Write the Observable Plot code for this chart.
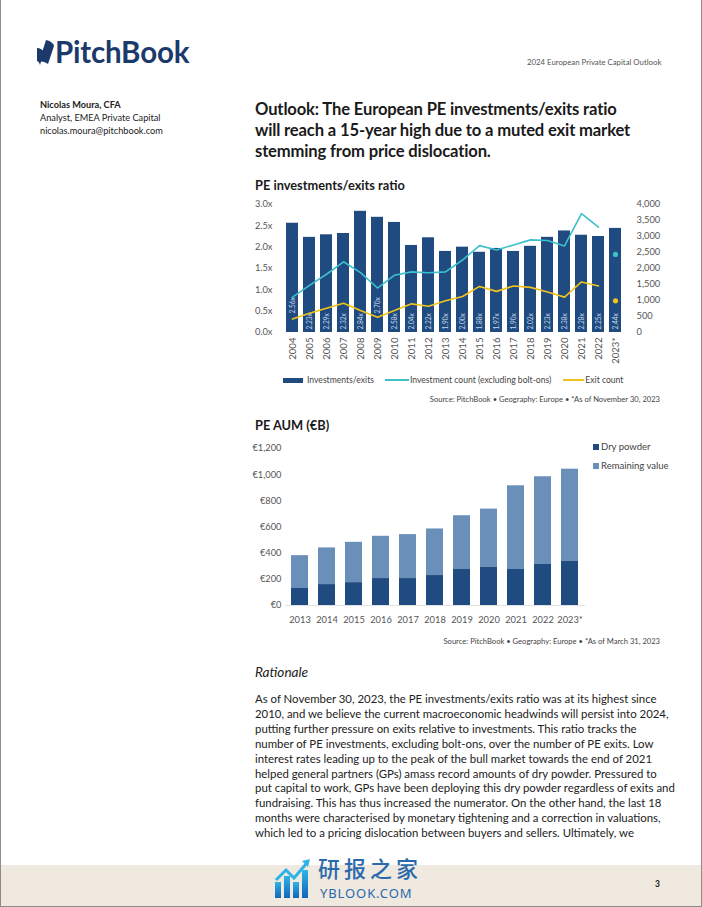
<!DOCTYPE html>
<html><head><meta charset="utf-8">
<script src="https://cdn.jsdelivr.net/npm/d3@7"></script>
<script src="https://cdn.jsdelivr.net/npm/@observablehq/plot@0.6"></script>
<style>
html,body{margin:0;padding:0}
body{width:702px;height:907px;position:relative;overflow:hidden;background:#fff;font-family:Lato,"Open Sans",sans-serif;color:#1e1e1e}
.frame{position:absolute;left:0;top:0;width:700px;height:906px;border-left:1px solid #8c8c8c;border-right:1px solid #8c8c8c;border-bottom:1px solid #8c8c8c;pointer-events:none;z-index:5}
.abs{position:absolute;white-space:nowrap}
.footer{position:absolute;left:0;top:865px;width:702px;height:42px;background:#efe9e0}
.src{font-size:7.6px;color:#444;text-align:right;width:420px;left:240px}
.leg1{display:flex;align-items:center;font-size:8.6px;color:#444;left:283px;top:375px}
.leg2{font-size:9.5px;color:#444;left:593px}
.sw{display:inline-block;width:6px;height:6px;margin-right:2px;vertical-align:middle;position:relative;top:-1px}
.para{left:255px;top:692px;font-size:11.4px;line-height:14.9px;color:#222}
</style></head>
<body>
<div class="frame"></div>

<!-- header -->
<svg class="abs" style="left:37px;top:40px" width="18" height="26" viewBox="0 0 18 26">
  <path d="M9 0 C14 1 17 4 17 6 L11 24 C8 22 5 21 2 22 Z" fill="#1b3a6b"/>
  <path d="M0 8 C3 8 6 10 7 12 L3 25 C2 22 1 21 0 21 Z" fill="#1b3a6b"/>
</svg>
<div class="abs" style="left:55px;top:34px;font-size:29.5px;font-weight:700;color:#1b3a6b;letter-spacing:-0.2px">PitchBook</div>
<div class="abs" style="left:527px;top:57px;font-size:7.8px;color:#555">2024 European Private Capital Outlook</div>

<div class="abs" style="left:40px;top:98px;font-size:9.2px;line-height:13px;color:#222">
  <div style="font-weight:700">Nicolas Moura, CFA</div>
  <div>Analyst, EMEA Private Capital</div>
  <div>nicolas.moura@pitchbook.com</div>
</div>

<div class="abs" style="left:255px;top:99px;font-size:16.6px;line-height:21px;font-weight:700;color:#1a1a1a;letter-spacing:-0.15px">
  <div>Outlook: The European PE investments/exits ratio</div>
  <div>will reach a 15-year high due to a muted exit market</div>
  <div>stemming from price dislocation.</div>
</div>

<div class="abs" style="left:255px;top:177px;font-size:12.8px;font-weight:700;color:#1a1a1a">PE investments/exits ratio</div>
<div id="chart1" class="abs" style="left:250px;top:196px"></div>
<div id="legend1" class="abs leg1"></div>
<div id="src1" class="abs src" style="top:394px"></div>

<div class="abs" style="left:255px;top:417px;font-size:12.8px;font-weight:700;color:#1a1a1a">PE AUM (€B)</div>
<div id="chart2" class="abs" style="left:250px;top:438px"></div>
<div id="legend2"></div>
<div id="src2" class="abs src" style="top:636px"></div>

<div class="abs" style="left:255px;top:664px;font-size:13.6px;font-style:italic;color:#222">Rationale</div>
<div id="para" class="abs para"></div>

<div class="footer"></div>
<svg class="abs" style="left:274px;top:858px" width="38" height="42" viewBox="0 0 38 42">
  <defs><linearGradient id="wg" x1="0" y1="1" x2="0" y2="0"><stop offset="0" stop-color="#1565b8"/><stop offset="1" stop-color="#2eb3e8"/></linearGradient></defs>
  <rect x="1" y="24" width="6" height="16" fill="url(#wg)"/>
  <rect x="10" y="18" width="6" height="22" fill="url(#wg)"/>
  <rect x="19" y="24" width="6" height="16" fill="url(#wg)"/>
  <rect x="28" y="12" width="6" height="28" fill="url(#wg)"/>
  <path d="M2 22 L12 12 L20 20 L32 6" stroke="#2eb3e8" stroke-width="3" fill="none"/>
  <path d="M28 3 L36 1 L34 9 Z" fill="#2eb3e8"/>
</svg>
<div class="abs" style="left:318px;top:856px;font-family:'Noto Sans CJK SC';font-size:22px;line-height:22px;font-weight:500;color:#2a6aac;letter-spacing:4px">研报之家</div>
<div class="abs" style="left:320px;top:887px;font-family:'Noto Sans';font-size:13px;line-height:13px;color:#2a6aac;letter-spacing:0.9px">YBLOOK.COM</div>
<div class="abs" style="left:655px;top:879px;font-size:8.5px;font-weight:700;color:#222">3</div>

<script>
// ---------- Data: chart 1 ----------
const years1 = ["2004","2005","2006","2007","2008","2009","2010","2011","2012","2013","2014","2015","2016","2017","2018","2019","2020","2021","2022","2023*"];
const ratio = [2.56,2.23,2.29,2.32,2.84,2.70,2.58,2.04,2.22,1.90,2.00,1.88,1.97,1.90,2.02,2.23,2.38,2.28,2.25,2.44];
const investmentCount = [1105,1470,1820,2210,1870,1390,1790,1895,1865,1895,2265,2715,2580,2735,2895,2875,2705,3715,3295,2440];
const exitCount = [420,600,760,915,685,475,685,895,820,990,1125,1440,1285,1455,1410,1265,1105,1580,1455,990];
const ratioTicks = [0,0.5,1,1.5,2,2.5,3];
const countTicks = [0,500,1000,1500,2000,2500,3000,3500,4000];
const seriesNames1 = ["Investments/exits","Investment count (excluding bolt-ons)","Exit count"];
const source1 = "Source: PitchBook  •  Geography: Europe  •  *As of November 30, 2023";

// ---------- Data: chart 2 ----------
const years2 = ["2013","2014","2015","2016","2017","2018","2019","2020","2021","2022","2023*"];
const dryPowder = [130,160,175,206,206,229,275,295,275,318,341];
const remainingValue = [251,280,308,323,336,356,411,442,640,666,701];
const aumTicks = [0,200,400,600,800,1000,1200];
const seriesNames2 = ["Dry powder","Remaining value"];
const source2 = "Source: PitchBook  •  Geography: Europe  •  *As of March 31, 2023";

const paragraph = [
"As of November 30, 2023, the PE investments/exits ratio was at its highest since",
"2010, and we believe the current macroeconomic headwinds will persist into 2024,",
"putting further pressure on exits relative to investments. This ratio tracks the",
"number of PE investments, excluding bolt-ons, over the number of PE exits. Low",
"interest rates leading up to the peak of the bull market towards the end of 2021",
"helped general partners (GPs) amass record amounts of dry powder. Pressured to",
"put capital to work, GPs have been deploying this dry powder regardless of exits and",
"fundraising. This has thus increased the numerator. On the other hand, the last 18",
"months were characterised by monetary tightening and a correction in valuations,",
"which led to a pricing dislocation between buyers and sellers. Ultimately, we"
];

// ---------- Colors ----------
const navy = "#1f4b80", teal = "#3dbfcc", gold = "#f2c31a", steel = "#6a8fb9";
const font = "Lato, 'Open Sans', sans-serif";

// ---------- Chart 1 ----------
const k = 3 / 4000; // map count axis onto ratio axis
const d1 = years1.map((y, i) => ({year: y, ratio: ratio[i], inv: investmentCount[i], exit: exitCount[i]}));
const lineData = d1.slice(0, -1);
const lastPt = d1.slice(-1);
const lowExit = d => d.exit * k < 0.4;

const c1 = Plot.plot({
  width: 415, height: 180,
  marginLeft: 27, marginRight: 36, marginTop: 8, marginBottom: 44,
  style: {fontFamily: font, fontSize: "9.3px", color: "#555", background: "transparent"},
  x: {domain: years1, paddingInner: 0.32, paddingOuter: 0.17, label: null},
  y: {domain: [0, 3], label: null},
  marks: [
    Plot.axisX({tickRotate: -90, tickSize: 0, tickPadding: 5, label: null, fontSize: 9.6}),
    Plot.axisY(ratioTicks, {anchor: "left", tickSize: 0, tickPadding: 5, label: null, tickFormat: d => d.toFixed(1) + "x"}),
    Plot.axisY(countTicks.map(c => c * k), {anchor: "right", tickSize: 0, tickPadding: 7, label: null, tickFormat: d => d3.format(",")(Math.round(d / k))}),
    Plot.barY(d1, {x: "year", y: "ratio", fill: navy}),
    Plot.text(d1.filter(d => !lowExit(d)), {x: "year", y: 0, text: d => d.ratio.toFixed(2) + "x", rotate: -90, textAnchor: "start", dy: -3, fill: "#c9d6e8", fontSize: 6.6}),
    Plot.text(d1.filter(lowExit), {x: "year", y: 0, text: d => d.ratio.toFixed(2) + "x", rotate: -90, textAnchor: "start", dy: -19, fill: "#c9d6e8", fontSize: 6.6}),
    Plot.line(lineData, {x: "year", y: d => d.inv * k, stroke: teal, strokeWidth: 1.6}),
    Plot.line(lineData, {x: "year", y: d => d.exit * k, stroke: gold, strokeWidth: 1.6}),
    Plot.dot(lastPt, {x: "year", y: d => d.inv * k, r: 2.6, fill: teal}),
    Plot.dot(lastPt, {x: "year", y: d => d.exit * k, r: 2.6, fill: gold})
  ]
});
document.getElementById("chart1").appendChild(c1);

const leg1 = document.getElementById("legend1");
leg1.innerHTML =
  `<span style="display:inline-block;width:20px;height:5px;background:${navy};margin-right:4px"></span><span>${seriesNames1[0]}</span>` +
  `<span style="display:inline-block;width:24px;height:2px;background:${teal};margin-left:11px;margin-right:1px"></span><span>${seriesNames1[1]}</span>` +
  `<span style="display:inline-block;width:21px;height:2px;background:${gold};margin-left:12px;margin-right:1px"></span><span>${seriesNames1[2]}</span>`;
document.getElementById("src1").textContent = source1;

// ---------- Chart 2 ----------
const d2 = [];
years2.forEach((y, i) => {
  d2.push({year: y, series: seriesNames2[0], value: dryPowder[i]});
  d2.push({year: y, series: seriesNames2[1], value: remainingValue[i]});
});
const c2 = Plot.plot({
  width: 415, height: 195,
  marginLeft: 35, marginRight: 80, marginTop: 10, marginBottom: 28,
  style: {fontFamily: font, fontSize: "9.3px", color: "#555", background: "transparent"},
  x: {domain: years2, paddingInner: 0.37, paddingOuter: 0.2, label: null},
  y: {domain: [0, 1200], label: null},
  color: {domain: seriesNames2, range: [navy, steel]},
  marks: [
    Plot.axisX({tickSize: 0, tickPadding: 11, label: null}),
    Plot.axisY(aumTicks, {anchor: "left", tickSize: 0, tickPadding: 4, label: null, tickFormat: d => "€" + d3.format(",")(d)}),
    Plot.barY(d2, {x: "year", y: "value", fill: "series", order: seriesNames2}),
    Plot.ruleY([0], {stroke: "#d8d8d8", strokeWidth: 0.8})
  ]
});
document.getElementById("chart2").appendChild(c2);

const leg2 = document.getElementById("legend2");
leg2.innerHTML = seriesNames2.map((s, i) =>
  `<div class="abs leg2" style="top:${441 + i * 19}px"><span class="sw" style="background:${[navy, steel][i]}"></span>${s}</div>`).join("");
document.getElementById("src2").textContent = source2;

document.getElementById("para").innerHTML = paragraph.map(l => `<div>${l}</div>`).join("");
</script>
</body></html>
